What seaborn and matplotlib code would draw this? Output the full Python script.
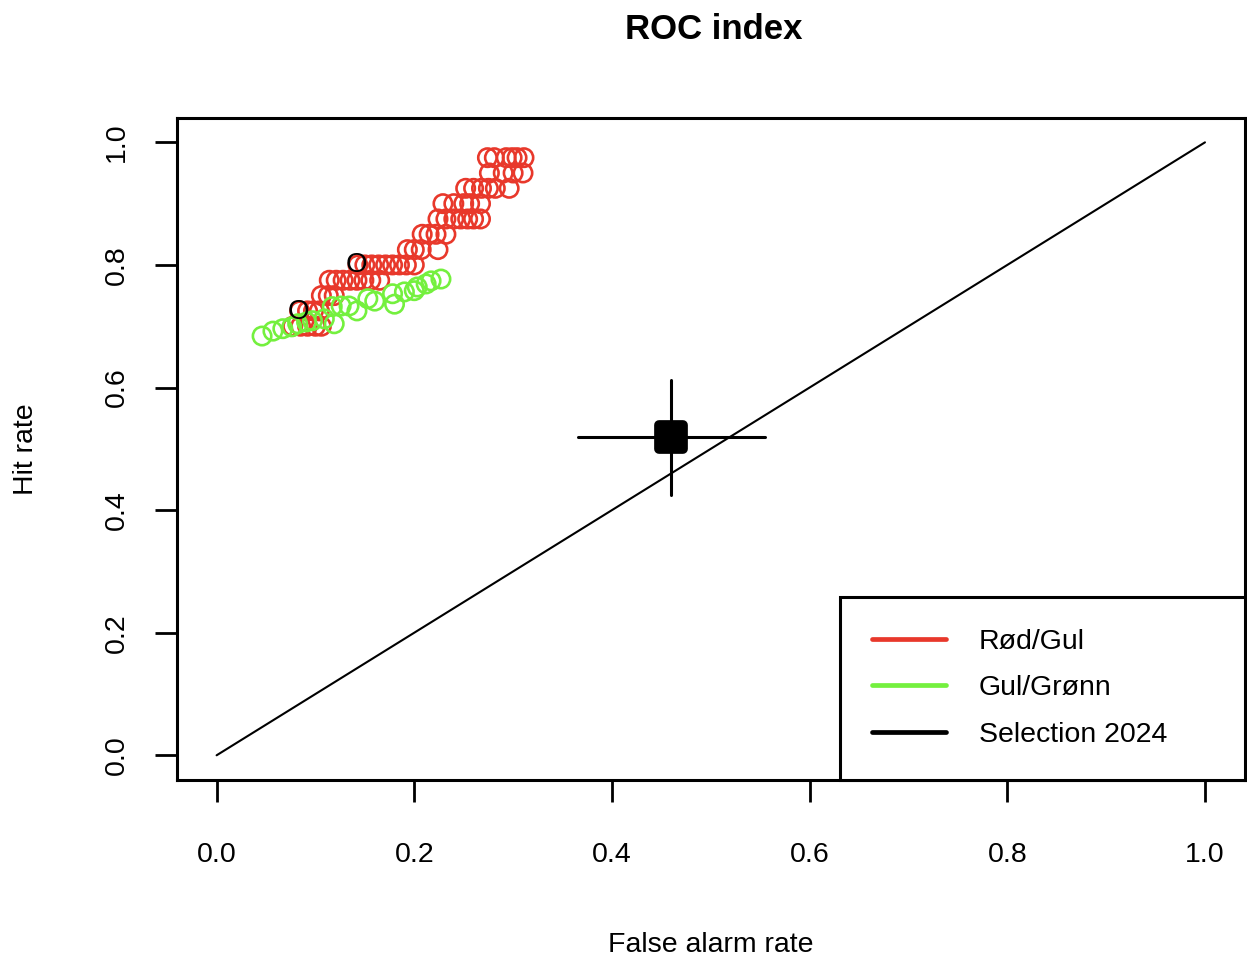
import matplotlib
matplotlib.use("Agg")
import matplotlib.pyplot as plt
import seaborn as sns
import pandas as pd
from matplotlib.lines import Line2D
from matplotlib.markers import MarkerStyle

# Threshold sweep for the "Rød/Gul" index (false alarm rate, hit rate)
red_far = [0.274, 0.281, 0.293, 0.299, 0.304, 0.311,
           0.276, 0.290, 0.300, 0.310,
           0.252, 0.260, 0.268, 0.275, 0.282, 0.296,
           0.229, 0.240, 0.250, 0.256, 0.267,
           0.224, 0.232, 0.240, 0.247, 0.254, 0.260, 0.267,
           0.208, 0.215, 0.222, 0.232,
           0.193, 0.200, 0.207, 0.224,
           0.143, 0.150, 0.157, 0.164, 0.171, 0.178, 0.185, 0.192, 0.200,
           0.114, 0.121, 0.128, 0.135, 0.142, 0.149, 0.156, 0.165,
           0.106, 0.113, 0.119,
           0.084, 0.092, 0.098, 0.104,
           0.077, 0.085, 0.092, 0.100, 0.106]
red_hit = [0.975] * 6 + [0.95] * 4 + [0.925] * 6 + [0.90] * 5 + [0.875] * 7 + \
          [0.85] * 4 + [0.825] * 4 + [0.80] * 9 + [0.775] * 8 + [0.75] * 3 + \
          [0.725] * 4 + [0.70] * 5

# Threshold sweep for the "Gul/Grønn" index
green_far = [0.046, 0.057, 0.067, 0.076, 0.082, 0.091, 0.097, 0.109, 0.119,
             0.117, 0.126, 0.134, 0.142, 0.153, 0.160, 0.178, 0.180, 0.190,
             0.200, 0.203, 0.212, 0.217, 0.227]
green_hit = [0.684, 0.692, 0.696, 0.699, 0.704, 0.707, 0.709, 0.712, 0.704,
             0.732, 0.733, 0.733, 0.725, 0.745, 0.741, 0.753, 0.736, 0.756,
             0.758, 0.764, 0.769, 0.774, 0.777]

# Chosen operating points on each curve
chosen_far = [0.141, 0.083]
chosen_hit = [0.800, 0.724]

# Selection 2024 with its uncertainty range
sel_far, sel_hit = 0.460, 0.519
sel_far_lo, sel_far_hi = 0.366, 0.555
sel_hit_lo, sel_hit_hi = 0.424, 0.612

legend_labels = ["Rød/Gul", "Gul/Grønn", "Selection 2024"]
ticks = [0.0, 0.2, 0.4, 0.6, 0.8, 1.0]

RED = "#E8382B"
GREEN = "#74F03E"
FS = 20.5

sns.set_style("white")
plt.rcParams["font.family"] = ["Liberation Sans", "DejaVu Sans"]
plt.rcParams["text.color"] = "black"
plt.rcParams["axes.labelcolor"] = "black"

fig = plt.figure(figsize=(12.47, 9.58), dpi=100)
ax = fig.add_axes([0.142, 0.186, 0.856, 0.691])

# Diagonal reference line
diag = pd.DataFrame({"x": [0.0, 1.0], "y": [0.0, 1.0]})
sns.lineplot(data=diag, x="x", y="y", ax=ax, color="black", lw=1.5)

red_df = pd.DataFrame({"far": red_far, "hit": red_hit})
green_df = pd.DataFrame({"far": green_far, "hit": green_hit})
sns.scatterplot(data=red_df, x="far", y="hit", ax=ax, marker="o", s=175,
                facecolor="none", edgecolor=RED, linewidth=1.9, zorder=3)
sns.scatterplot(data=green_df, x="far", y="hit", ax=ax, marker="o", s=175,
                facecolor="none", edgecolor=GREEN, linewidth=1.9, zorder=4)

for fx, hy in zip(chosen_far, chosen_hit):
    ax.text(fx, hy, "O", ha="center", va="center", fontsize=20,
            color="black", zorder=5)

# Selection 2024 point with cross-shaped error bars
ax.plot([sel_far_lo, sel_far_hi], [sel_hit, sel_hit], color="black", lw=2.2,
        zorder=5)
ax.plot([sel_far, sel_far], [sel_hit_lo, sel_hit_hi], color="black", lw=2.2,
        zorder=5)
ax.plot([sel_far], [sel_hit], marker=MarkerStyle("s", joinstyle="round"),
        ms=17, color="black", mew=7, markeredgecolor="black",
        linestyle="none", zorder=6)

ax.set_xlim(-0.04, 1.04)
ax.set_ylim(-0.04, 1.04)
ax.set_xticks(ticks)
ax.set_yticks(ticks)
ax.set_xticklabels([f"{t:.1f}" for t in ticks])
ax.set_yticklabels([f"{t:.1f}" for t in ticks], rotation=90, va="center")
ax.tick_params(axis="both", direction="out", length=16, width=2.0,
               labelsize=FS, colors="black", bottom=True, left=True)
ax.tick_params(axis="x", pad=29)
ax.tick_params(axis="y", pad=18)
for sp in ax.spines.values():
    sp.set_visible(True)
    sp.set_color("black")
    sp.set_linewidth(2.2)

ax.set_xlabel("False alarm rate", fontsize=FS, labelpad=46)
ax.set_ylabel("Hit rate", fontsize=FS, labelpad=47)
fig.text(0.572, 0.969, "ROC index", ha="center", va="center", fontsize=25,
         fontweight="bold")

handles = [Line2D([0], [0], color=c, lw=3.4, solid_capstyle="round")
           for c in (RED, GREEN, "black")]
leg = ax.legend(handles, legend_labels, loc="lower left",
                bbox_to_anchor=(0.621, 0.0, 0.379, 0.3), mode="expand",
                fontsize=FS, frameon=True, fancybox=False, borderaxespad=0,
                handlelength=2.6, handletextpad=1.15, labelspacing=0.72,
                borderpad=1.12)
leg.get_frame().set_edgecolor("black")
leg.get_frame().set_linewidth(2.2)
leg.get_frame().set_alpha(1)

fig.savefig("out.png", dpi=100, facecolor="white")
